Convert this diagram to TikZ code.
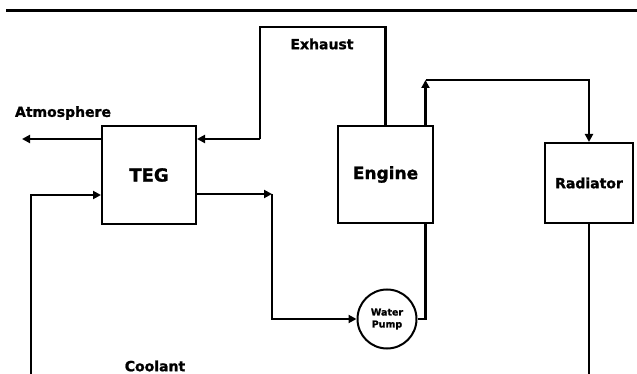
\documentclass[tikz,border=0pt]{standalone}
\usepackage{fontspec}
\setmainfont{DejaVu Sans}[BoldFeatures={FakeBold=1.2}]
\usetikzlibrary{arrows.meta,positioning}

\begin{document}
\begin{tikzpicture}[x=1pt, y=-1pt, every node/.style={font=\bfseries\fontsize{14}{16}\selectfont}, block/.style={draw, line width=2pt, inner sep=0pt}, pipe/.style={line width=2.6pt}, arrow/.style={pipe, -{Triangle[length=8pt, width=8pt]}}]
\useasboundingbox (0,0) rectangle (637,374);
\draw[line width=3pt] (6,11) -- (637,11);
\node[block, minimum width=94pt, minimum height=98pt, font=\bfseries\fontsize{18}{20}\selectfont] (teg) at (149,175) {TEG};
\node[block, minimum width=95pt, minimum height=97pt, font=\bfseries\fontsize{17}{19}\selectfont] (engine) at (385.5,174.5) {Engine};
\node[block, minimum width=88pt, minimum height=80pt] (radiator) at (589,183) {Radiator};
\node[block, circle, minimum size=59pt, align=center, font=\bfseries\fontsize{9.5}{12}\selectfont] (pump) at (387,319) {Water\\Pump};
\node (atmlabel) at (63,113) {Atmosphere};
\node (exhlabel) at (322,44) {Exhaust};
\node (coollabel) at (155,366) {Coolant};
\coordinate (exhA) at (385.5,27); \coordinate (exhB) at (260,27); \coordinate (atm) at (22,139);
\coordinate (coolin) at (31,374); \coordinate (tegout) at (272,194); \coordinate (engout) at (425.5,80); \coordinate (radout) at (589,374);
\draw[pipe] (engine.north) -- (exhA) -- (exhB) -- ([yshift=36pt]exhB |- teg.east); \draw[arrow] ([yshift=36pt]exhB |- teg.east) -- ([yshift=36pt]teg.east);
\draw[arrow] ([yshift=36pt]teg.west) -- (atm);
\draw[arrow] (coolin) |- ([yshift=-20pt]teg.west);
\draw[arrow] ([yshift=-19pt]teg.east) -- (tegout); \draw[arrow] (tegout) |- (pump.west);
\draw[pipe] (pump.east) -| ([xshift=40pt]engine.south);
\draw[arrow] ([xshift=40pt]engine.north) -- (engout); \draw[arrow] (engout) -| (radiator.north);
\draw[pipe] (radiator.south) -- (radout);
\end{tikzpicture}
\end{document}
